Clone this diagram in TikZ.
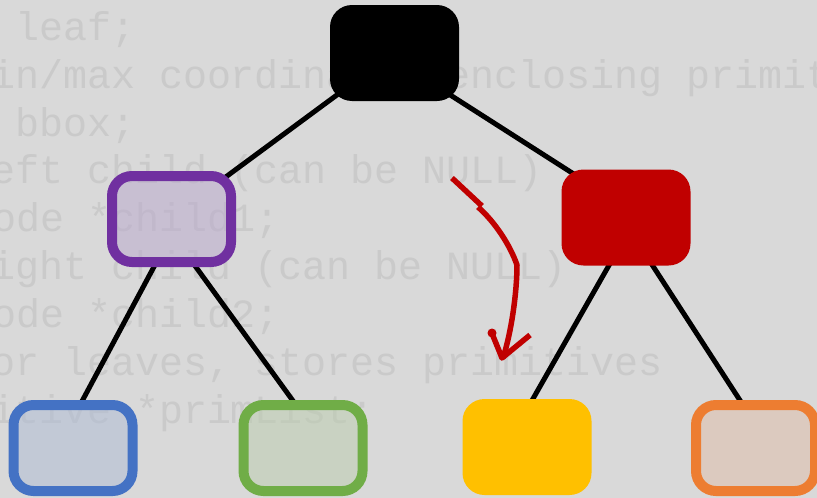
\documentclass[tikz,border=0pt]{standalone}
\usepackage{fontspec}
\newfontfamily\codefont{Liberation Mono}
\usetikzlibrary{calc}

\pgfdeclarelayer{code}
\pgfdeclarelayer{links}
\pgfsetlayers{code,links,main}

\definecolor{slide}{HTML}{D9D9D9}
\definecolor{codegray}{HTML}{CACACA}
\definecolor{scarlet}{HTML}{C00000}
\definecolor{amber}{HTML}{FFC000}
\definecolor{purpleedge}{HTML}{7030A0}
\definecolor{purplefill}{HTML}{B9A7CD}
\definecolor{blueedge}{HTML}{4472C4}
\definecolor{bluefill}{HTML}{ADBBD5}
\definecolor{greenedge}{HTML}{70AD47}
\definecolor{greenfill}{HTML}{BBCDAD}
\definecolor{orangeedge}{HTML}{ED7D31}
\definecolor{orangefill}{HTML}{DFBDA7}

\tikzset{
  codeline/.style={anchor=base west, inner sep=0pt, outer sep=0pt, text=codegray,
    font=\codefont\fontsize{40}{48}\selectfont},
  solidbox/.style={rounded corners=22pt, minimum width=129pt, minimum height=96pt,
    inner sep=0pt, outer sep=0pt},
  ringbox/.style={rounded corners=20pt, line width=10pt, minimum width=119pt,
    minimum height=86pt, inner sep=0pt, outer sep=0pt, fill opacity=0.5},
  link/.style={line width=5pt, draw=black},
  scribble/.style={line width=5.5pt, draw=scarlet, line join=round},
}

\begin{document}
\begin{tikzpicture}[x=1pt,y=-1pt]
  \useasboundingbox (0,0) rectangle (817,498);

  % tree nodes
  \node[solidbox, fill=black] (root) at (394.5,53) {};
  \node[ringbox, draw=purpleedge, fill=purplefill] (nodeL) at (171.5,219) {};
  \node[solidbox, fill=scarlet] (nodeR) at (626,217.5) {};
  \node[ringbox, draw=blueedge, fill=bluefill] (leafA) at (73,448) {};
  \node[ringbox, draw=greenedge, fill=greenfill] (leafB) at (303,448) {};
  \node[solidbox, fill=amber] (leafC) at (527,447) {};
  \node[ringbox, draw=orangeedge, fill=orangefill] (leafD) at (755.5,448) {};

  % slide background and the source listing behind the tree
  \begin{pgfonlayer}{code}
    \fill[slide] (0,0) rectangle (817,498);
    \node[codeline] (code1) at (-9,40)    {\ leaf;};
    \node[codeline] (code2) at (-9,88)    {in/max coordinates enclosing primitives};
    \node[codeline] (code3) at (-9,136)   {\ bbox;};
    \node[codeline] (code4) at (-9,183.5) {eft child (can be NULL)};
    \node[codeline] (code5) at (-8,231.5) {ode *child1;};
    \node[codeline] (code6) at (-9,279)   {ight child (can be NULL)};
    \node[codeline] (code7) at (-8,327)   {ode *child2;};
    \node[codeline] (code8) at (-9,375)   {or leaves, stores primitives};
    \node[codeline] (code9) at (-9,423)   {itive *primList;};
  \end{pgfonlayer}

  % edges of the tree
  \begin{pgfonlayer}{links}
    \draw[link] ($(root.south west)+(15,-12)$) -- ($(nodeL.north east)+(-8,3)$);
    \draw[link] ($(root.south east)+(-15,-10)$) -- ($(nodeR.north west)+(18.5,8.5)$);
    \draw[link] ($(nodeL.south)+(-15.5,1)$) -- ($(leafA.north)+(7,0)$);
    \draw[link] ($(nodeL.south)+(21.5,1)$) -- ($(leafB.north)+(-7,0)$);
    \draw[link] ($(nodeR.south)+(-14,-5.5)$) -- ($(leafC.north)+(3,5)$);
    \draw[link] ($(nodeR.south)+(23,-5.5)$) -- ($(leafD.north)+(-12.5,0)$);
  \end{pgfonlayer}

  % hand-drawn red arrow
  \draw[scribble] (452,178) -- (482,206);
  \draw[scribble] (478,207) .. controls (495,222) and (510,245) .. (517,265)
                  .. controls (517,290) and (512,330) .. (503,358);
  \draw[scribble] (491,331) -- (502,358) -- (530,335);
  \fill[scarlet] (492,333) circle (4.5pt);
\end{tikzpicture}
\end{document}
